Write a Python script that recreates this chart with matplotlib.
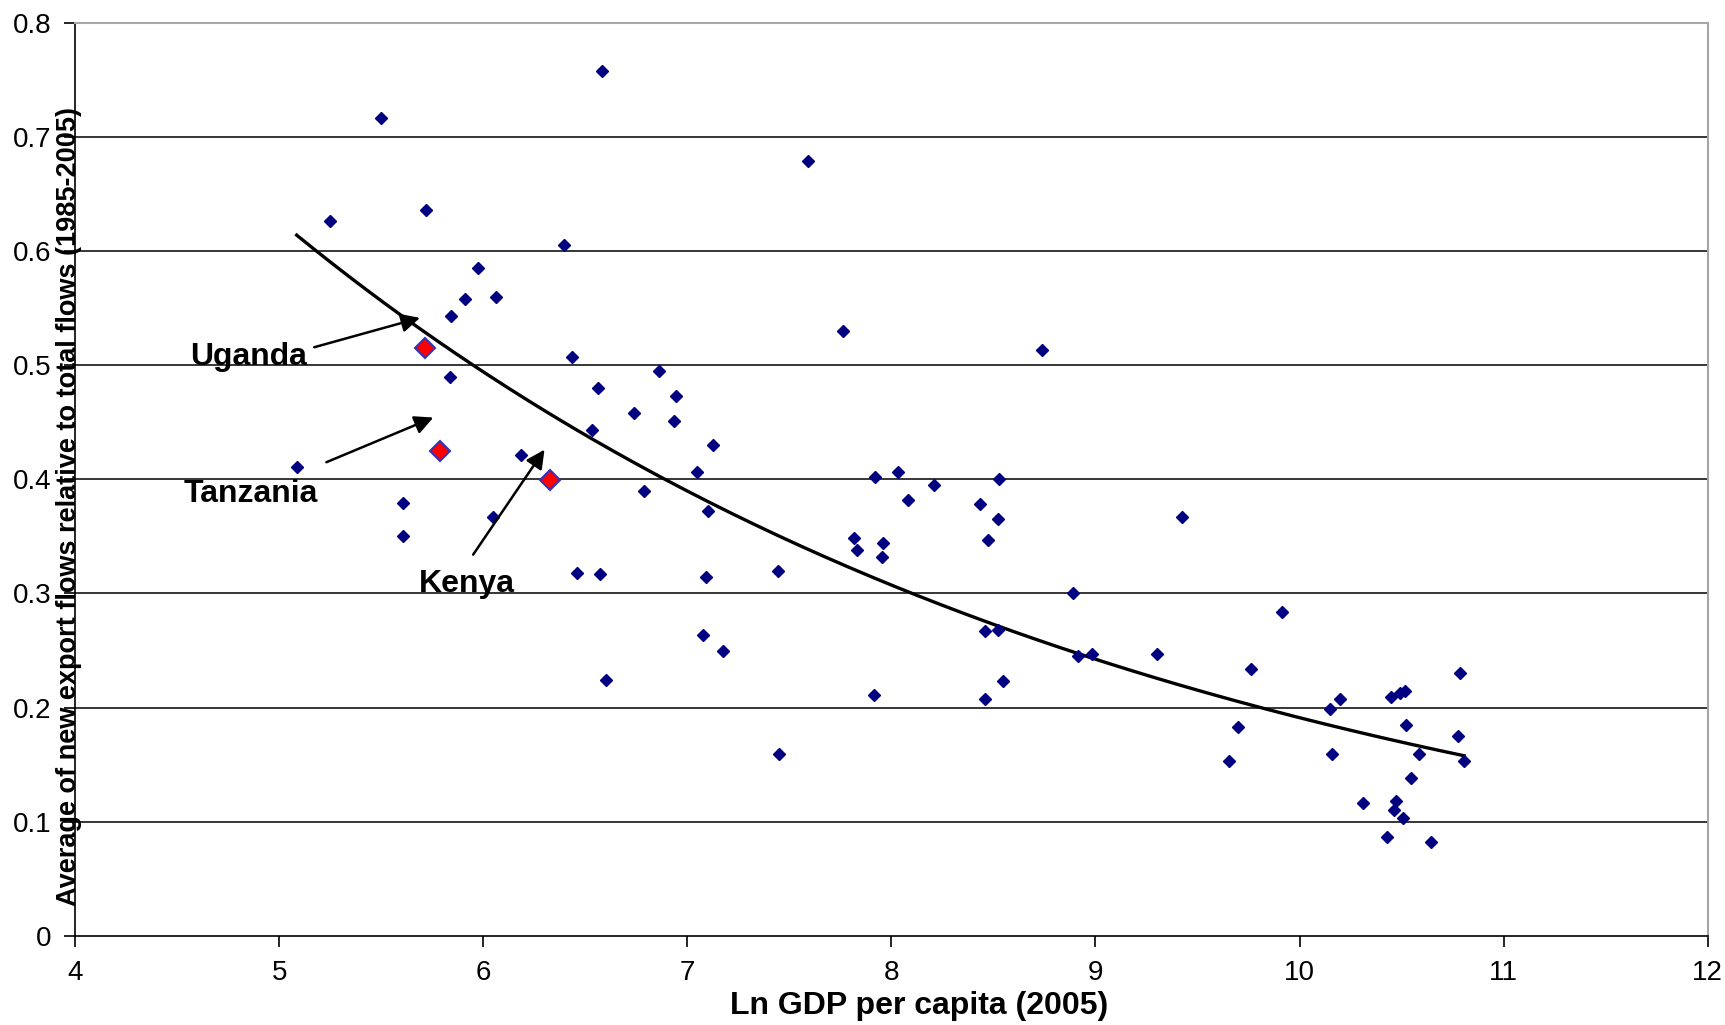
import numpy as np
import matplotlib.pyplot as plt

# countries: ln GDP per capita (2005) vs share of new export flows
gdp = [5.086, 5.249, 5.50, 5.606, 5.606, 5.72, 5.843, 5.836, 5.913, 5.975,
       6.065, 6.05, 6.184, 6.396, 6.434, 6.46, 6.533, 6.56, 6.571, 6.58,
       6.604, 6.737, 6.787, 6.861, 6.943, 6.935, 7.049, 7.099, 7.094, 7.079,
       7.124, 7.173, 7.446, 7.449, 7.589, 7.764, 7.815, 7.833, 7.914, 7.921,
       7.952, 7.958, 8.034, 8.079, 8.21, 8.435, 8.46, 8.46, 8.473, 8.522,
       8.523, 8.528, 8.548, 8.74, 8.892, 8.915, 8.982, 9.30, 9.424, 9.656,
       9.70, 9.764, 9.916, 10.148, 10.159, 10.198, 10.309, 10.43, 10.446, 10.461,
       10.474, 10.492, 10.505, 10.515, 10.523, 10.547, 10.585, 10.642, 10.774, 10.787,
       10.806]
new_flows = [0.411, 0.626, 0.716, 0.379, 0.350, 0.636, 0.543, 0.490, 0.558, 0.585,
             0.560, 0.367, 0.421, 0.605, 0.507, 0.318, 0.443, 0.480, 0.317, 0.758,
             0.224, 0.458, 0.390, 0.495, 0.473, 0.451, 0.406, 0.372, 0.314, 0.264,
             0.430, 0.250, 0.320, 0.159, 0.679, 0.530, 0.349, 0.338, 0.211, 0.402,
             0.332, 0.344, 0.406, 0.382, 0.395, 0.378, 0.267, 0.2075, 0.347, 0.268,
             0.365, 0.400, 0.223, 0.513, 0.300, 0.245, 0.247, 0.247, 0.367, 0.153,
             0.183, 0.234, 0.284, 0.1985, 0.159, 0.2075, 0.1165, 0.087, 0.2095, 0.110,
             0.118, 0.213, 0.103, 0.2143, 0.185, 0.138, 0.159, 0.0826, 0.175, 0.230,
             0.153]

# East African countries highlighted
eac_names = ['Uganda', 'Tanzania', 'Kenya']
eac_gdp = [5.713, 5.789, 6.326]
eac_flows = [0.515, 0.425, 0.399]

plt.rcParams['font.family'] = ['Liberation Sans', 'DejaVu Sans']

fig = plt.figure(figsize=(17.25, 10.25), dpi=100)
ax = fig.add_axes([0.0435, 0.0868, 0.9465, 0.8912])

# horizontal gridlines
for g in np.arange(0.1, 0.75, 0.1):
    ax.axhline(g, color='black', lw=1.1, zorder=1)

ax.plot(gdp, new_flows, linestyle='none', marker='D', ms=6.5,
        color='#000080', zorder=3)
ax.plot(eac_gdp, eac_flows, linestyle='none', marker='D', ms=10.5,
        markerfacecolor='#FF0000', markeredgecolor='#3333BB', mew=1.5, zorder=4)

# exponential trendline (Excel style)
all_x = np.array(gdp + eac_gdp)
all_y = np.array(new_flows + eac_flows)
b, ln_a = np.polyfit(all_x, np.log(all_y), 1)
xs = np.linspace(all_x.min(), all_x.max(), 200)
ax.plot(xs, np.exp(ln_a) * np.exp(b * xs), color='black', lw=2.4, zorder=2)

# annotations
arrow = dict(arrowstyle='-|>', color='black', lw=1.8, mutation_scale=28)
ax.annotate('', xy=(5.703, 0.542), xytext=(5.159, 0.515), arrowprops=arrow)
ax.annotate('', xy=(5.768, 0.455), xytext=(5.219, 0.414), arrowprops=arrow)
ax.annotate('', xy=(6.308, 0.428), xytext=(5.943, 0.332), arrowprops=arrow)
ax.text(5.135, 0.500, eac_names[0], ha='right', va='baseline', fontsize=23, fontweight='bold')
ax.text(5.192, 0.380, eac_names[1], ha='right', va='baseline', fontsize=23, fontweight='bold')
ax.text(5.685, 0.3015, eac_names[2], ha='left', va='baseline', fontsize=23, fontweight='bold')

ax.set_xlim(4, 12)
ax.set_ylim(0, 0.8)
ax.set_xticks(range(4, 13))
ax.set_yticks(np.arange(0, 0.81, 0.1))
ax.set_yticklabels(['0', '0.1', '0.2', '0.3', '0.4', '0.5', '0.6', '0.7', '0.8'])
ax.tick_params(direction='out', length=8, width=1.2, labelsize=20, pad=9)

for s in ['left', 'bottom']:
    ax.spines[s].set_color('black')
    ax.spines[s].set_linewidth(1.2)
for s in ['top', 'right']:
    ax.spines[s].set_color('#A6A6A6')
    ax.spines[s].set_linewidth(1.5)

fig.text(0.533, 0.0185, 'Ln GDP per capita (2005)', ha='center', va='center',
         fontsize=23, fontweight='bold')
fig.text(0.040, 0.506, 'Average of new export flows relative to total flows (1985-2005)',
         ha='center', va='center', rotation=90, fontsize=19.5, fontweight='bold')

fig.savefig('out.png', dpi=100)
